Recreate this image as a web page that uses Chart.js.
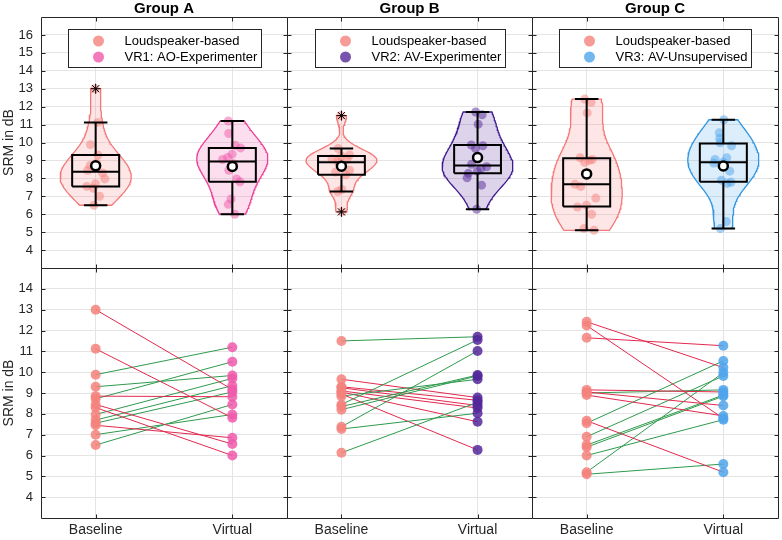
<!DOCTYPE html>
<html>
<head>
<meta charset="utf-8">
<script src="https://cdn.jsdelivr.net/npm/chart.js@4/dist/chart.umd.min.js"></script>
<style>
  body { margin: 0; background: #fff; }
  #wrap { position: relative; width: 782px; height: 540px; overflow: hidden; background: #fff; }
  canvas { position: absolute; }
</style>
</head>
<body>
<div id="wrap">
  <canvas id="top0" width="291" height="272" style="left:0px;top:0px"></canvas>
  <canvas id="top1" width="253" height="272" style="left:283px;top:0px"></canvas>
  <canvas id="top2" width="254" height="272" style="left:528px;top:0px"></canvas>
  <canvas id="bot0" width="291" height="276" style="left:0px;top:264px"></canvas>
  <canvas id="bot1" width="253" height="276" style="left:283px;top:264px"></canvas>
  <canvas id="bot2" width="254" height="276" style="left:528px;top:264px"></canvas>
</div>
<script>
// labels
const groupTitles = ["Group A", "Group B", "Group C"];
const baselineLabel = "Loudspeaker-based";
const virtualLabels = ["VR1: AO-Experimenter", "VR2: AV-Experimenter", "VR3: AV-Unsupervised"];
const conditions = ["Baseline", "Virtual"];
const topTicks = [4, 5, 6, 7, 8, 9, 10, 11, 12, 13, 14, 15, 16];
const bottomTicks = [4, 5, 6, 7, 8, 9, 10, 11, 12, 13, 14];

// SRM in dB per participant, baseline[i] is paired with virtual[i]
const baselineA = [13.0, 11.12, 8.85, 8.45, 8.3, 7.45, 9.88, 9.3, 8.72, 7.97, 7.7, 7.55, 7.0, 6.5];
const virtualA  = [9.17, 7.81, 8.82, 6.55, 6.0, 6.85, 11.2, 9.84, 10.5, 9.7, 9.35, 9.05, 7.97, 8.45];
const baselineB = [11.5, 8.45, 7.38, 8.35, 8.2, 8.85, 7.27, 6.13, 9.66, 9.3, 9.25, 9.1, 9.05, 8.95];
const virtualB  = [11.7, 11.55, 11.02, 9.86, 9.82, 9.66, 8.03, 8.55, 8.78, 8.65, 8.4, 8.28, 7.62, 6.27];
const baselineC = [12.42, 12.24, 11.65, 9.15, 9.05, 8.9, 7.67, 9.0, 7.55, 6.9, 6.5, 6.4, 6.0, 5.2, 5.1];
const virtualC  = [10.22, 7.78, 11.27, 9.05, 8.4, 7.9, 5.2, 9.15, 10.54, 9.82, 8.9, 8.85, 7.72, 9.98, 5.59];

const baseline = [baselineA, baselineB, baselineC];
const virtual = [virtualA, virtualB, virtualC];

// colours
const baseColor = "#F5827D";
const baseEdge = "#F47878";
const vrColors = ["#F05AAA", "#55289A", "#50A5EB"];
const vrEdges = ["#EC3F96", "#3E1A8E", "#2E95E0"];
const upColor = "#2E9A4C";
const downColor = "#E2284E";
const axisColor = "#262626";
const gridColor = "#e4e4e4";

const FONT = "'Liberation Sans', Arial, Helvetica, sans-serif";
Chart.defaults.font.family = FONT;
Chart.defaults.color = axisColor;

function rgba(hex, a) {
  const n = parseInt(hex.slice(1), 16);
  return `rgba(${n >> 16},${(n >> 8) & 255},${n & 255},${a})`;
}

function median(a) {
  const s = [...a].sort((p, q) => p - q);
  const n = s.length;
  return n % 2 ? s[(n - 1) / 2] : (s[n / 2 - 1] + s[n / 2]) / 2;
}

// matlab style percentile
function prctile(s, p) {
  const n = s.length;
  const pos = n * p + 0.5;
  if (pos <= 1) return s[0];
  if (pos >= n) return s[n - 1];
  const i = Math.floor(pos);
  return s[i - 1] + (pos - i) * (s[i] - s[i - 1]);
}

function boxStats(vals) {
  const s = [...vals].sort((p, q) => p - q);
  const q1 = prctile(s, 0.25), med = prctile(s, 0.5), q3 = prctile(s, 0.75);
  const iqr = q3 - q1;
  const inside = s.filter(v => v >= q1 - 1.5 * iqr && v <= q3 + 1.5 * iqr);
  return {
    q1, med, q3,
    lo: Math.min(...inside), hi: Math.max(...inside),
    outliers: s.filter(v => !inside.includes(v)),
    mean: vals.reduce((a, b) => a + b, 0) / vals.length
  };
}

// kernel density, bandwidth like ksdensity
function densityFn(vals) {
  const m = median(vals);
  const sig = median(vals.map(v => Math.abs(v - m))) / 0.6745;
  const h = sig * Math.pow(4 / (3 * vals.length), 0.2);
  const f = y => vals.reduce((s, v) => s + Math.exp(-0.5 * ((y - v) / h) ** 2), 0);
  const lo = Math.min(...vals), hi = Math.max(...vals);
  const ys = [];
  for (let i = 0; i <= 80; i++) ys.push(lo + (hi - lo) * i / 80);
  const dmax = Math.max(...ys.map(f));
  return { ys, rel: y => f(y) / dmax };
}

const VIOLIN_W = 0.26, BOX_W = 0.172, CAP_W = 0.086, JITTER = 0.09;

function sideDatasets(vals, color, edge, c) {
  const st = boxStats(vals);
  const dens = densityFn(vals);
  const right = dens.ys.map(y => ({ x: c + VIOLIN_W * dens.rel(y), y }));
  const left = dens.ys.map(y => ({ x: c - VIOLIN_W * dens.rel(y), y })).reverse();
  const gap = { x: c, y: null };
  const box = [
    { x: c - BOX_W, y: st.q1 }, { x: c + BOX_W, y: st.q1 }, { x: c + BOX_W, y: st.q3 },
    { x: c - BOX_W, y: st.q3 }, { x: c - BOX_W, y: st.q1 }, gap,
    { x: c - BOX_W, y: st.med }, { x: c + BOX_W, y: st.med }, gap,
    { x: c, y: st.q3 }, { x: c, y: st.hi }, gap,
    { x: c, y: st.q1 }, { x: c, y: st.lo }, gap,
    { x: c - CAP_W, y: st.hi }, { x: c + CAP_W, y: st.hi }, gap,
    { x: c - CAP_W, y: st.lo }, { x: c + CAP_W, y: st.lo }
  ];
  const sets = [
    {
      data: [...right, ...left, right[0]], showLine: true, fill: "shape",
      backgroundColor: rgba(color, 0.2), borderColor: edge, borderWidth: 1.3,
      pointRadius: 0, tension: 0, order: 5
    },
    {
      // deterministic spread inside the violin
      data: vals.map((v, i) => ({ x: c + JITTER * dens.rel(v) * (((i * 0.618034 + 0.31) % 1) * 2 - 1), y: v })),
      pointRadius: 4.5, backgroundColor: rgba(color, 0.5), borderWidth: 0, order: 4
    },
    {
      data: box, showLine: true, spanGaps: false, borderColor: "#000", borderWidth: 2,
      borderJoinStyle: "miter", pointRadius: 0, tension: 0, order: 3
    },
    {
      data: [{ x: c, y: st.mean }], pointRadius: 4.5, backgroundColor: "#fff",
      borderColor: "#000", borderWidth: 2.5, order: 1
    }
  ];
  if (st.outliers.length) {
    sets.push({
      data: st.outliers.map(v => ({ x: c, y: v })), pointStyle: "star", pointRadius: 5,
      borderColor: "#000", borderWidth: 1, order: 2
    });
  }
  return sets;
}

function topDatasets(g) {
  return [
    ...sideDatasets(baseline[g], baseColor, baseEdge, 1),
    ...sideDatasets(virtual[g], vrColors[g], vrEdges[g], 2)
  ];
}

function bottomDatasets(g) {
  const pairs = baseline[g].map((b, i) => ({
    data: [{ x: 1, y: b }, { x: 2, y: virtual[g][i] }], showLine: true,
    borderColor: virtual[g][i] > b ? upColor : downColor, borderWidth: 1,
    pointRadius: 0, tension: 0, order: 3
  }));
  return [
    ...pairs,
    { data: baseline[g].map(v => ({ x: 1, y: v })), pointRadius: 5, backgroundColor: rgba(baseColor, 0.85), borderWidth: 0, order: 1 },
    { data: virtual[g].map(v => ({ x: 2, y: v })), pointRadius: 5, backgroundColor: rgba(vrColors[g], 0.85), borderWidth: 0, order: 1 }
  ];
}

// box round the axes with inward ticks
const framePlugin = {
  id: "frame",
  afterDraw(chart) {
    const { ctx, chartArea: a, scales } = chart;
    const L = Math.floor(a.left) + 0.5, R = Math.floor(a.right) + 0.5;
    const T = Math.floor(a.top) + 0.5, B = Math.floor(a.bottom) + 0.5;
    ctx.save();
    ctx.strokeStyle = axisColor;
    ctx.lineWidth = 1;
    ctx.beginPath();
    scales.y.ticks.forEach(t => {
      const y = Math.round(scales.y.getPixelForValue(t.value)) + 0.5;
      ctx.moveTo(L, y); ctx.lineTo(L + 4, y);
      ctx.moveTo(R, y); ctx.lineTo(R - 4, y);
    });
    scales.x.ticks.forEach(t => {
      const x = Math.round(scales.x.getPixelForValue(t.value)) + 0.5;
      ctx.moveTo(x, B); ctx.lineTo(x, B - 4);
      ctx.moveTo(x, T); ctx.lineTo(x, T + 4);
    });
    ctx.rect(L, T, R - L, B - T);
    ctx.stroke();
    ctx.restore();
  }
};

// framed legend inside the top axes
const legendPlugin = {
  id: "boxLegend",
  afterDatasetsDraw(chart, args, opts) {
    if (!opts.items) return;
    const { ctx, chartArea: a } = chart;
    ctx.save();
    ctx.font = "13px " + FONT;
    const tw = Math.max(...opts.items.map(it => ctx.measureText(it.text).width));
    const w = Math.round(56 + tw + 4), h = 38;
    const x = Math.round((a.left + a.right) / 2 - w / 2) + 0.5;
    const y = Math.round(a.top + 12) + 0.5;
    ctx.fillStyle = "#fff";
    ctx.fillRect(x, y, w, h);
    ctx.strokeStyle = axisColor;
    ctx.lineWidth = 1;
    ctx.strokeRect(x, y, w, h);
    opts.items.forEach((it, i) => {
      const cy = y + 11.5 + i * 16;
      ctx.fillStyle = it.color;
      ctx.beginPath();
      ctx.arc(x + 30, cy, 5.5, 0, 2 * Math.PI);
      ctx.fill();
      ctx.fillStyle = "#000";
      ctx.textBaseline = "middle";
      ctx.fillText(it.text, x + 56, cy + 0.5);
    });
    ctx.restore();
  }
};

function makeChart(row, g) {
  const id = (row === 0 ? "top" : "bot") + g;
  const tickVals = row === 0 ? topTicks : bottomTicks;
  return new Chart(document.getElementById(id), {
    type: "scatter",
    data: { datasets: row === 0 ? topDatasets(g) : bottomDatasets(g) },
    options: {
      responsive: false,
      animation: false,
      events: [],
      layout: {
        autoPadding: false,
        padding: { left: 0, right: 4, top: row === 0 ? 0 : 4, bottom: 0 }
      },
      plugins: {
        legend: { display: false },
        tooltip: { enabled: false },
        title: {
          display: row === 0, text: groupTitles[g], fullSize: false, color: "#000",
          font: { size: 15, weight: "bold", lineHeight: 1 }, padding: { top: 1, bottom: 1 }
        },
        boxLegend: row === 0 ? {
          items: [
            { text: baselineLabel, color: rgba(baseColor, 0.8) },
            { text: virtualLabels[g], color: rgba(vrColors[g], 0.8) }
          ]
        } : {}
      },
      scales: {
        x: {
          type: "linear", min: 0.6, max: 2.4,
          afterBuildTicks: s => { s.ticks = [1, 2].map(v => ({ value: v })); },
          afterFit: s => { s.height = row === 0 ? 4 : 22; s.paddingLeft = 0; s.paddingRight = 0; },
          grid: { color: gridColor, drawTicks: false },
          border: { display: false },
          ticks: {
            display: row === 1, padding: 4, color: axisColor, font: { size: 14 },
            callback: v => conditions[v - 1]
          }
        },
        y: {
          type: "linear", min: 3, max: row === 0 ? 17 : 15,
          afterBuildTicks: s => { s.ticks = tickVals.map(v => ({ value: v })); },
          afterFit: s => { s.width = g === 0 ? 41 : 4; s.paddingTop = 0; s.paddingBottom = 0; },
          grid: { color: gridColor, drawTicks: false },
          border: { display: false },
          ticks: { display: g === 0, padding: 8, color: axisColor, font: { size: 13 } },
          title: {
            display: g === 0, text: "SRM in dB", color: axisColor,
            font: { size: 14 }, padding: { top: 1, bottom: 0 }
          }
        }
      }
    },
    plugins: [framePlugin, legendPlugin]
  });
}

for (let row = 0; row < 2; row++) {
  for (let g = 0; g < 3; g++) makeChart(row, g);
}
</script>
</body>
</html>
